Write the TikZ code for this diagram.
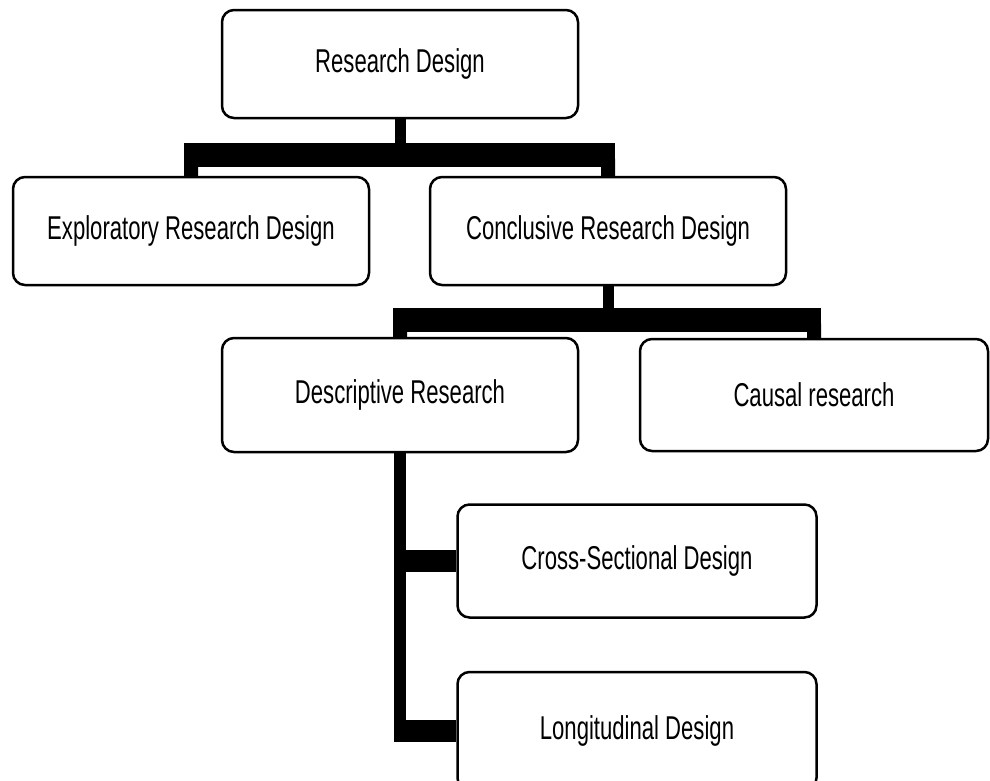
\documentclass[tikz,border=0pt]{standalone}
\usepackage{fontspec}
\setmainfont{Liberation Sans}[FakeStretch=0.67]
\usetikzlibrary{positioning}

\begin{document}
\begin{tikzpicture}[x=1pt,y=1pt,node distance=160pt,on grid,
	block/.style={draw,rounded corners=12pt,line width=2.5pt,minimum width=356pt,minimum height=108pt,inner sep=0pt,font=\fontsize{33}{40}\selectfont},
	stem/.style={line width=11pt},
	bus/.style={line width=14pt,rounded corners=5pt},
	bar/.style={line width=24pt,shorten <=-7pt,shorten >=-7pt},
	twig/.style={line width=22pt,shorten <=-6pt}]
	\useasboundingbox (0,0) rectangle (990,-780);
	\node[block] (rd) at (400,-64) {Research Design};
	\node[block] (erd) [below left=167pt and 209pt of rd] {Exploratory Research Design};
	\node[block] (crd) [right=417pt of erd] {Conclusive Research Design};
	\node[block,minimum height=114pt] (dr) [below=331pt of rd] {Descriptive Research};
	\node[block,minimum height=112pt,minimum width=348pt] (cr) [right=414pt of dr] {Causal research};
	\node[block,minimum height=113pt,minimum width=359pt] (csd) [below right=166pt and 237pt of dr] {Cross-Sectional Design};
	\node[block,minimum height=118pt,minimum width=359pt] (ld) [below=170pt of csd] {Longitudinal Design};
	
	\coordinate (b1) at (0,-155);
	\coordinate (b2) at (0,-320);
	\draw[stem] (rd.south) -- (rd.south |- b1);
	\draw[bus] (erd.north) -- (erd.north |- b1) -- (crd.north |- b1) -- (crd.north);
	\draw[bar] (erd.north |- b1) -- (crd.north |- b1);
	\draw[stem] (crd.south) -- (crd.south |- b2);
	\draw[bus] (dr.north) -- (dr.north |- b2) -- (cr.north |- b2) -- (cr.north);
	\draw[bar] (dr.north |- b2) -- (cr.north |- b2);
	
	\draw[stem,line width=12pt] (dr.south) -- (dr.south |- ld.west);
	\draw[twig] (dr.south |- csd.west) -- (csd.west);
	\draw[twig] (dr.south |- ld.west) -- (ld.west);
\end{tikzpicture}
\end{document}
